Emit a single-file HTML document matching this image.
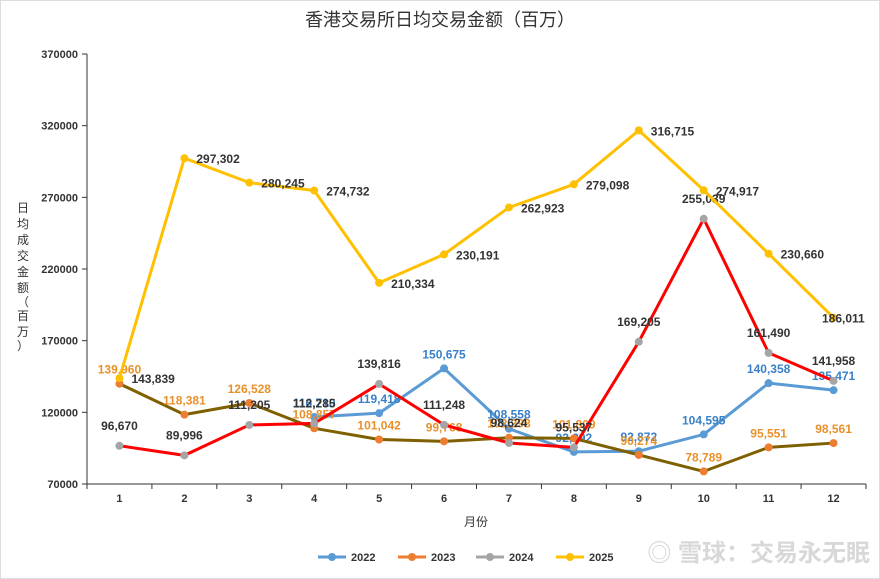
<!DOCTYPE html>
<html><head><meta charset="utf-8"><style>
body{margin:0;background:#fff;font-family:"Liberation Sans","Noto Sans CJK SC",sans-serif;overflow:hidden}
svg{display:block}
svg text{font-family:"Liberation Sans","Noto Sans CJK SC",sans-serif}
</style></head><body>
<svg id="c" width="880" height="579">
<rect x="0.5" y="0.5" width="879" height="578" fill="#fff" stroke="#ddd"/>
<text x="440" y="26" text-anchor="middle" font-size="18" fill="#333">香港交易所日均交易金额（百万）</text>
<text x="476" y="526" text-anchor="middle" font-size="12" fill="#333">月份</text>
<text font-size="12" fill="#333" text-anchor="middle"><tspan x="23" y="212">日</tspan><tspan x="23" y="228">均</tspan><tspan x="23" y="244">成</tspan><tspan x="23" y="260">交</tspan><tspan x="23" y="276">金</tspan><tspan x="23" y="292">额</tspan><tspan x="23" y="306">（</tspan><tspan x="23" y="320">百</tspan><tspan x="23" y="336">万</tspan><tspan x="23" y="350">）</tspan></text>
<text x="870" y="561" text-anchor="end" font-size="24" fill="#d8d8d8" font-weight="bold">◎ 雪球：交易永无眠</text>
<g id="axes"></g><g id="series"></g><g id="legend"></g>
</svg>
<script>
const months=[1,2,3,4,5,6,7,8,9,10,11,12];
const yTicks=[70000,120000,170000,220000,270000,320000,370000];
const names=['2022','2023','2024','2025'];
const s2022=[null,null,null,116710,119418,150675,108558,92392,92872,104595,140358,135471];
const s2023=[139960,118381,126528,108857,101042,99768,102298,101809,90274,78789,95551,98561];
const s2024=[96670,89996,111205,112285,139816,111248,98624,95537,169205,255039,161490,141958];
const s2025=[143839,297302,280245,274732,210334,230191,262923,279098,316715,274917,230660,186011];
const NS='http://www.w3.org/2000/svg';
const L=87,R=866,T=54,B=484;
const bw=(R-L)/months.length;
const xs=i=>L+bw*(i+0.5);
const ys=v=>B-(v-70000)/300000*(B-T);
function mk(t,a,p){const e=document.createElementNS(NS,t);for(const k in a)e.setAttribute(k,a[k]);p.appendChild(e);return e;}
const ax=document.getElementById('axes');
let e=mk('line',{x1:L,y1:T,x2:L,y2:B,stroke:'#333'},ax);


e=mk('line',{x1:L,y1:B,x2:R,y2:B,stroke:'#333'},ax);


yTicks.forEach(v=>{
 mk('line',{x1:L-5,y1:ys(v),x2:L,y2:ys(v),stroke:'#333'},ax);
 const t=mk('text',{x:L-9,y:ys(v)+4,'text-anchor':'end','font-size':11,'font-weight':'bold',fill:'#333'},ax);
 t.textContent=v;
 
 
});
months.forEach((m,i)=>{
 mk('line',{x1:L+bw*(i+1),y1:B,x2:L+bw*(i+1),y2:B+5,stroke:'#333'},ax);
 if(i==0)mk('line',{x1:L,y1:B,x2:L,y2:B+5,stroke:'#333'},ax);
 const t=mk('text',{x:xs(i),y:B+18,'text-anchor':'middle','font-size':11,'font-weight':'bold',fill:'#333'},ax);
 t.textContent=m;
 
 
});
const data=[s2022,s2023,s2024,s2025];
const lineC=['#5b9bd5','#7f6000','#ff0000','#ffc000'];
const dotC=['#5b9bd5','#ed7d31','#a5a5a5','#ffc000'];
const labC=['#3a80c8','#e8912a','#333','#333'];
const sg=document.getElementById('series');
data.forEach((arr,si)=>{
 const g=mk('g',{},sg);
 
 
 let d='';arr.forEach((v,i)=>{if(v==null)return;d+=(d?'L':'M')+xs(i)+','+ys(v);});
 const p=mk('path',{d:d,fill:'none',stroke:lineC[si],'stroke-width':3,'stroke-linejoin':'round'},g);
 
 
 arr.forEach((v,i)=>{if(v==null)return;
  const c=mk('circle',{cx:xs(i),cy:ys(v),r:4,fill:dotC[si]},g);
  
  
  let lx=xs(i),ly=ys(v)-10,anc='middle';
  if(si==3){lx=Math.min(xs(i)+12,822);ly=ys(v)+5;anc='start';}
  if(si==2){ly=ys(v)-16;}
  const t=mk('text',{x:lx,y:ly,'text-anchor':anc,'font-size':12,'font-weight':'bold',fill:labC[si]},g);
  t.textContent=v.toLocaleString('en-US');
  
  
 });
});
const lg=document.getElementById('legend');
const lx0=[318,398,476,556];
names.forEach((n,i)=>{
 const g=mk('g',{},lg);
 
 
 mk('line',{x1:lx0[i],y1:557,x2:lx0[i]+28,y2:557,stroke:dotC[i],'stroke-width':3},g);
 mk('circle',{cx:lx0[i]+14,cy:557,r:4,fill:dotC[i]},g);
 const t=mk('text',{x:lx0[i]+33,y:561,'font-size':11,'font-weight':'bold',fill:'#333'},g);
 t.textContent=n;
});
</script>
</body></html>
